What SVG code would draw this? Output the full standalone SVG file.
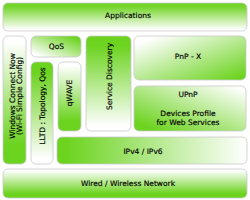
<svg xmlns="http://www.w3.org/2000/svg" width="250" height="200" viewBox="0 0 250 200">
<style>
.b{stroke:#c9c9c9;stroke-width:0.8}
text{font-family:"DejaVu Sans",Verdana,sans-serif;font-size:7.5px;fill:#000;stroke:#000;stroke-width:0.15}
.m{text-anchor:middle}
</style>
<defs>
<linearGradient id="gTop" x1="0" y1="0" x2="0" y2="1"><stop offset="0" stop-color="#6cd31f"/><stop offset="0.15" stop-color="#78d62f"/><stop offset="0.95" stop-color="#ffffff"/></linearGradient>
<linearGradient id="gDown" x1="0" y1="0" x2="0" y2="1"><stop offset="0.05" stop-color="#ffffff"/><stop offset="0.85" stop-color="#6cd31f"/></linearGradient>
<linearGradient id="gUp" x1="0" y1="0" x2="0" y2="1"><stop offset="0.1" stop-color="#6cd31f"/><stop offset="0.95" stop-color="#ffffff"/></linearGradient>
<linearGradient id="gBLTR" x1="0" y1="1" x2="1" y2="0"><stop offset="0.1" stop-color="#ffffff"/><stop offset="0.9" stop-color="#6cd31f"/></linearGradient>
<linearGradient id="gTLBR" x1="0" y1="0" x2="1" y2="1"><stop offset="0.1" stop-color="#ffffff"/><stop offset="0.95" stop-color="#6cd31f"/></linearGradient>
<linearGradient id="gTRBL" x1="0" y1="1" x2="1" y2="0"><stop offset="0.1" stop-color="#6cd31f"/><stop offset="0.95" stop-color="#ffffff"/></linearGradient>
<linearGradient id="gLR" x1="0" y1="0" x2="1" y2="0"><stop offset="0.05" stop-color="#6cd31f"/><stop offset="1" stop-color="#ffffff"/></linearGradient>
</defs>
<rect width="250" height="200" fill="#ffffff"/>
<g id="applications"><rect class="b" x="3" y="3" width="244" height="28" rx="5" fill="url(#gTop)"/><text class="m" x="128" y="18">Applications</text></g>
<g id="wcn"><rect class="b" x="3" y="36" width="23" height="128" rx="5" fill="url(#gDown)"/><text class="m" transform="translate(15,96) rotate(-90)">Windows Connect Now</text><text class="m" transform="translate(22,96) rotate(-90)">(Wi-Fi Simple Config)</text></g>
<g id="qos"><rect class="b" x="31" y="36" width="50" height="21" rx="5" fill="url(#gBLTR)"/><text class="m" x="56.5" y="49">QoS</text></g>
<g id="lltd"><rect class="b" x="31" y="62" width="22" height="102" rx="5" fill="url(#gUp)"/><text class="m" transform="translate(45,106) rotate(-90)">LLTD : Topology, Qos</text></g>
<g id="qwave"><rect class="b" x="58" y="62" width="23" height="69" rx="5" fill="url(#gDown)"/><text class="m" transform="translate(72,93) rotate(-90)">qWAVE</text></g>
<g id="sd"><rect class="b" x="86" y="36" width="45" height="95" rx="5" fill="url(#gUp)"/><text class="m" transform="translate(112,76.5) rotate(-90)">Service Discovery</text></g>
<g id="pnpx"><rect class="b" x="134" y="36" width="112" height="44" rx="5" fill="url(#gTLBR)"/><text class="m" x="188" y="59">PnP - X</text></g>
<g id="upnp"><rect class="b" x="134" y="86" width="112" height="45" rx="5" fill="url(#gTRBL)"/><text class="m" x="188" y="97">UPnP</text><text class="m" x="188" y="116">Devices Profile</text><text class="m" x="188" y="125">for Web Services</text></g>
<g id="ip"><rect class="b" x="57" y="137" width="190" height="27" rx="5" fill="url(#gLR)"/><text class="m" x="143" y="154">IPv4 / IPv6</text></g>
<g id="wired"><rect class="b" x="3" y="169" width="244" height="29" rx="5" fill="url(#gDown)"/><text class="m" x="128" y="186">Wired / Wireless Network</text></g>
<g id="connectors"/>
</svg>
